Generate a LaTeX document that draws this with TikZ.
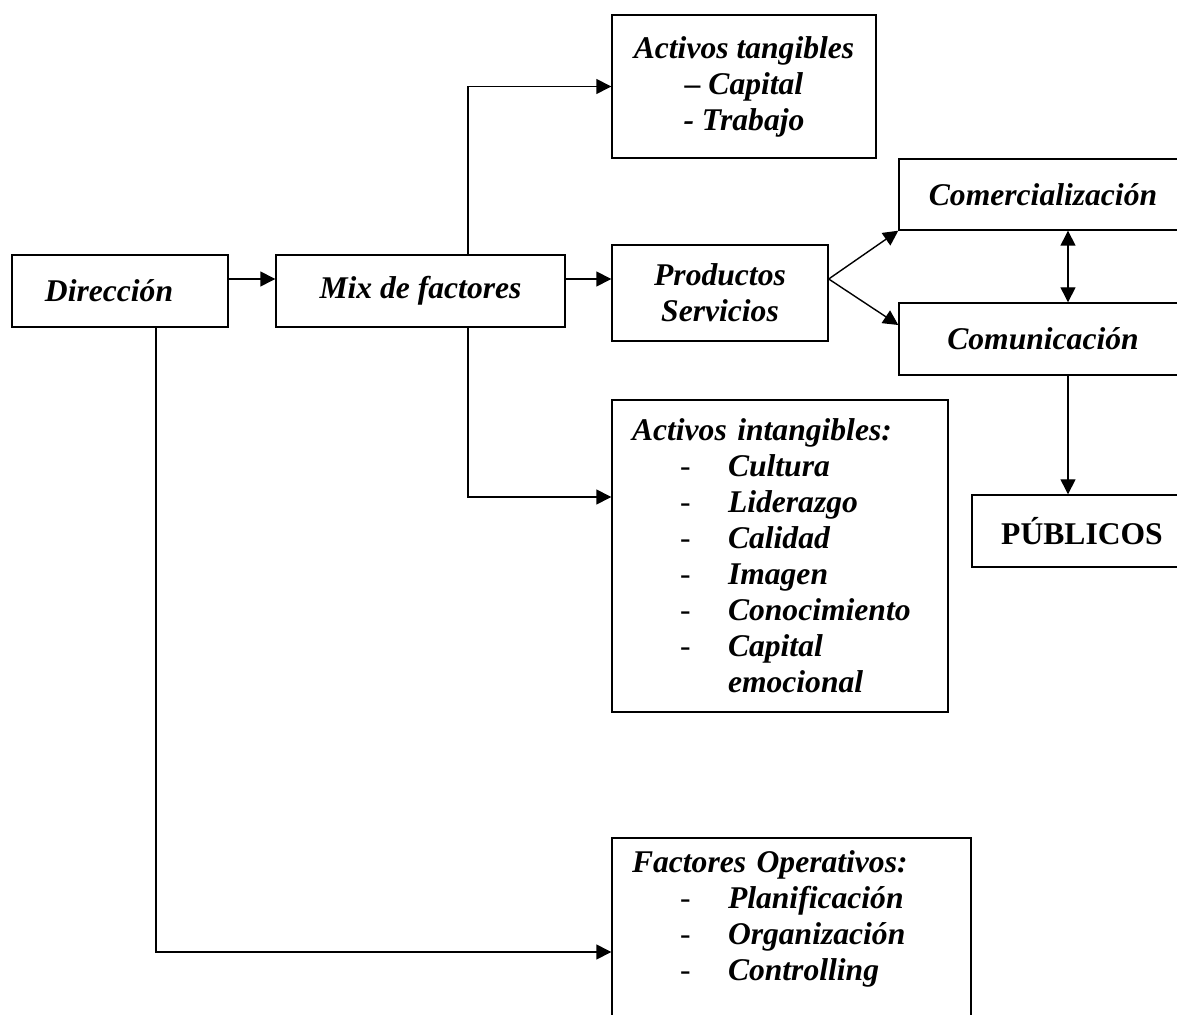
\documentclass[tikz,border=0pt]{standalone}
\usepackage{fontspec}
\setmainfont{Liberation Serif}
\usetikzlibrary{arrows.meta,calc}
% indented list entries with a plain dash
\newcommand\listitem[1]{\hspace*{24pt}\makebox[24pt][l]{\normalfont -}#1}
\newcommand\listcont[1]{\hspace*{48pt}#1}

\begin{document}
\begin{tikzpicture}[x=0.5pt,y=-0.5pt,
  box/.style={draw, line width=0.7pt, inner sep=0pt,
    font=\fontsize{15.8pt}{18pt}\selectfont\bfseries\itshape},
  listbox/.style={box, align=left, inner xsep=10pt},
  conn/.style={line width=0.7pt, -{Triangle[length=7.5pt,width=7.5pt]}},
  conn2/.style={line width=0.7pt,
    {Triangle[length=7.5pt,width=7.5pt]}-{Triangle[length=7.5pt,width=7.5pt]}}]

\useasboundingbox (0,0) rectangle (1177,1015);
\fill[white] (0,0) rectangle (1177,1015);

% boxes
\node[box, minimum width=108pt, minimum height=36pt] (dir) at (120,291) {Dirección\hspace*{11pt}};
\node[box, minimum width=144.5pt, minimum height=36pt] (mix) at (420.5,291) {Mix de factores};
\node[box, align=center, minimum width=108pt, minimum height=48pt] (prod) at (720,293) {Productos\\Servicios};
\node[box, align=center, minimum width=132pt, minimum height=71.5pt] (tang) at (744,86.5)
  {Activos tangibles\\– Capital\\- Trabajo};
\node[box, minimum width=144pt, minimum height=35.5pt] (comer) at (1043,194.5) {Comercialización};
\node[box, minimum width=144pt, minimum height=36pt] (comun) at (1043,339) {Comunicación};
\node[box, font=\fontsize{15.8pt}{18pt}\selectfont\bfseries,
  minimum width=110pt, minimum height=36pt] (pub) at (1082,531) {PÚBLICOS};
\node[listbox, text width=148pt, minimum height=156pt] (intang) at (780,556)
  {Activos intangibles:\\
   \listitem{Cultura}\\
   \listitem{Liderazgo}\\
   \listitem{Calidad}\\
   \listitem{Imagen}\\
   \listitem{Conocimiento}\\
   \listitem{Capital}\\
   \listcont{emocional}};
\node[listbox, text width=159.5pt, minimum height=114pt] (fact) at (791.5,952)
  {Factores Operativos:\\
   \listitem{Planificación}\\
   \listitem{Organización}\\
   \listitem{Controlling}\\
   \mbox{}\\
   \mbox{}};

% branch points
\coordinate (dirout) at ($(dir.east)+(0,-12)$);
\coordinate (mixout) at ($(mix.east)+(0,-12)$);
\coordinate (mixup) at ($(mix.north)+(47.5,0)$);
\coordinate (mixdown) at ($(mix.south)+(47.5,0)$);
\coordinate (dirdown) at ($(dir.south)+(36,0)$);
\coordinate (fork) at ($(prod.east)+(0,-14)$);
\coordinate (intangin) at ($(intang.west)+(0,-59)$);
\coordinate (comunin) at ($(comun.west)+(0,-14)$);
\coordinate (comerlow) at ($(comer.south)+(25,0)$);
\coordinate (comunhigh) at ($(comun.north)+(25,0)$);
\coordinate (comunlow) at ($(comun.south)+(25,0)$);

% connectors
\draw[conn] (dirout) -- (dirout -| mix.west);
\draw[conn] (mixout) -- (mixout -| prod.west);
\draw[conn] (mixup) |- (tang.west);
\draw[conn] (mixdown) |- (intangin);
\draw[conn] (dirdown) |- (fact.west);
\draw[conn] (fork) -- (comer.south west);
\draw[conn] (fork) -- (comunin);
\draw[conn2] (comerlow) -- (comunhigh);
\draw[conn] (comunlow) -- (comunlow |- pub.north);

\end{tikzpicture}
\end{document}
